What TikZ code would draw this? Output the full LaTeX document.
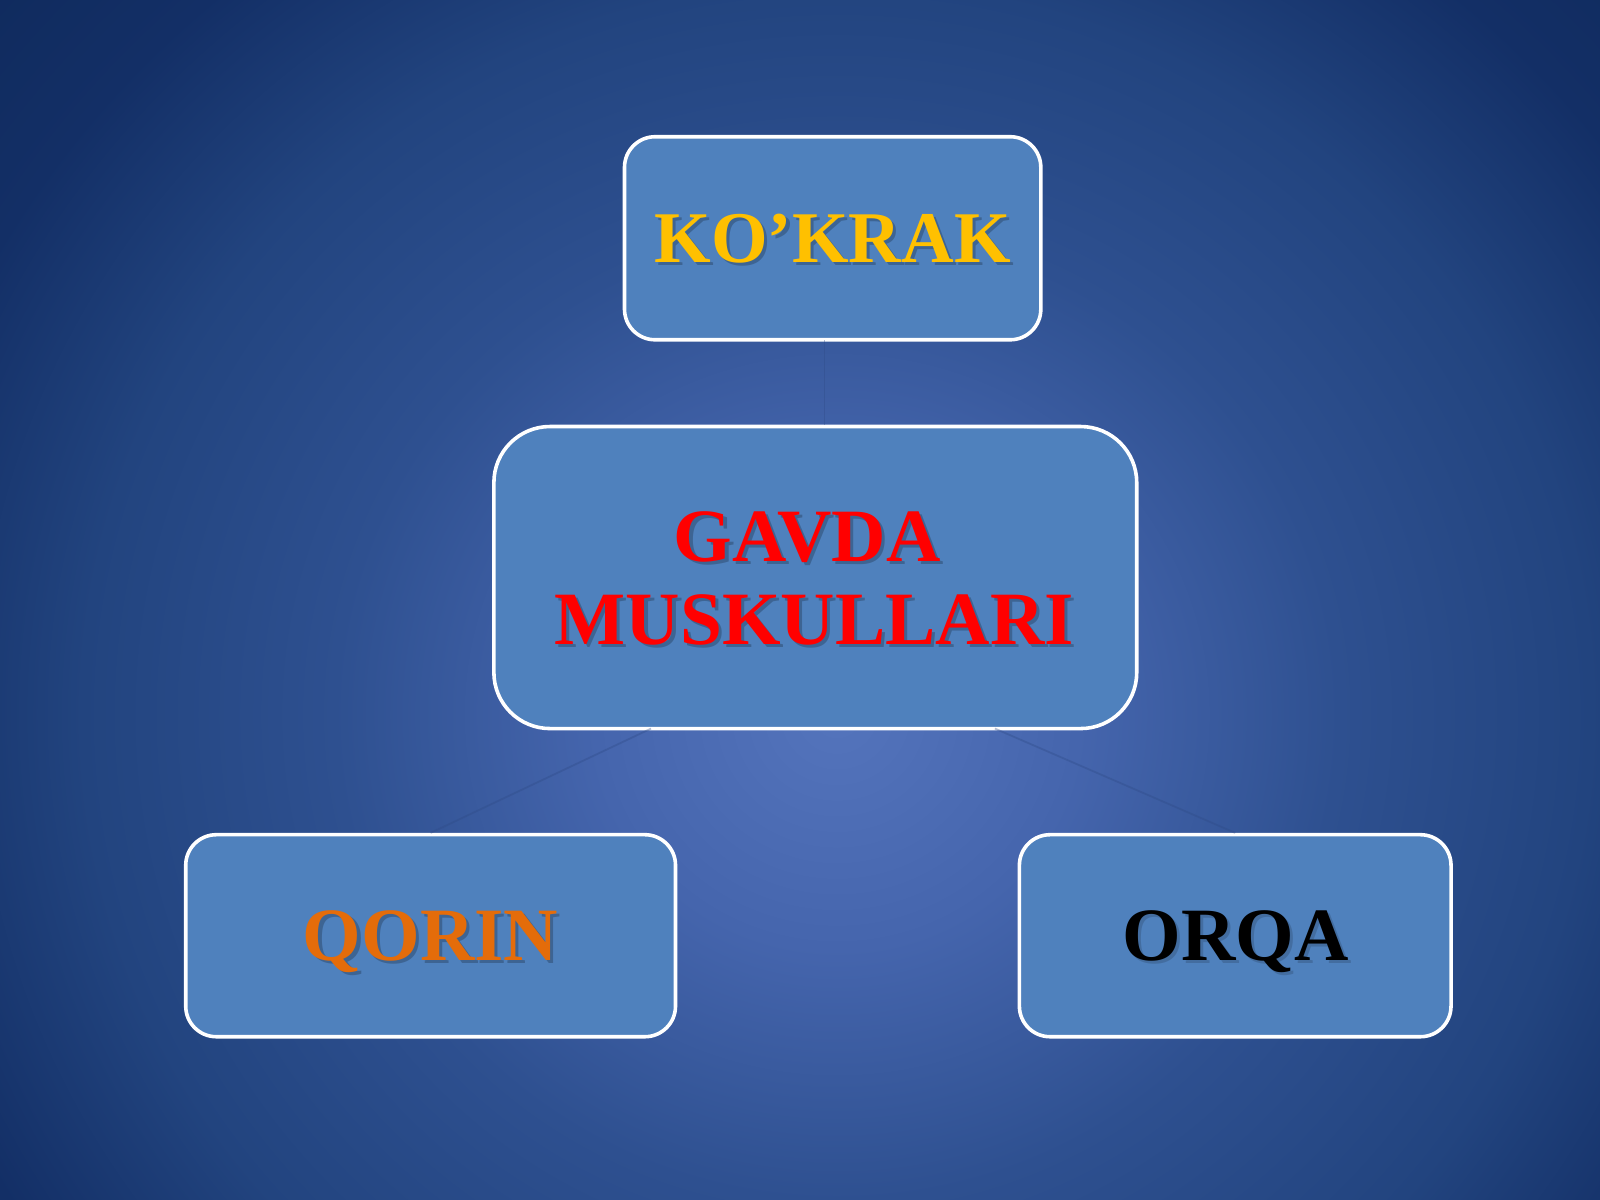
\documentclass[tikz,border=0pt]{standalone}
\usepackage{fontspec}
\setmainfont{Liberation Serif}
\definecolor{bgA}{HTML}{5474BC}
\definecolor{bgB}{HTML}{4565AD}
\definecolor{bgC}{HTML}{2E5090}
\definecolor{bgD}{HTML}{22447F}
\definecolor{bgE}{HTML}{132F66}
\definecolor{bgF}{HTML}{0F2A5C}
\definecolor{boxfill}{HTML}{4F81BD}
\definecolor{gold}{HTML}{FFC000}
\definecolor{orng}{HTML}{E46C0A}
\definecolor{conn}{HTML}{2E4A86}
\pgfdeclareradialshading{bgshade}{\pgfpoint{0bp}{0bp}}{color(0bp)=(bgA); color(5.2bp)=(bgB); color(10.8bp)=(bgC); color(16.2bp)=(bgD); color(20.8bp)=(bgE); color(25bp)=(bgF); color(50bp)=(bgF)}
\begin{document}
\begin{tikzpicture}[
  box/.style={draw=white, line width=1pt, fill=boxfill, rectangle, inner sep=0pt},
  lbl/.style={font=\bfseries\fontsize{21pt}{23.3pt}\selectfont, anchor=base, inner sep=0pt, align=center},
  shadowtxt/.style={lbl, text=black, opacity=0.22},
  connector/.style={draw=conn, line width=0.5pt, opacity=0.35}
]
\useasboundingbox (0,0) rectangle (15.68,-11.76);
\begin{scope}
\clip (0,0) rectangle (15.68,-11.76);
\fill[bgF] (0,0) rectangle (15.68,-11.76);
\shade[shading=bgshade] (8.2,-7.0) ellipse (11.4 and 11.04);
\end{scope}
% boxes
\node[box, rounded corners=0.3cm, minimum width=4.08cm, minimum height=1.99cm] (kok) at (8.16,-2.335) {};
\node[box, rounded corners=0.55cm, minimum width=6.30cm, minimum height=2.96cm] (gv) at (7.99,-5.66) {};
\node[box, rounded corners=0.3cm, minimum width=4.80cm, minimum height=1.98cm] (qor) at (4.22,-9.17) {};
\node[box, rounded corners=0.3cm, minimum width=4.23cm, minimum height=1.98cm] (orq) at (12.105,-9.17) {};
% connectors
\coordinate (c1) at (8.08,-3.335);
\draw[connector] (c1) -- (c1 |- gv.north);
\coordinate (c2) at (6.38,-7.14);
\coordinate (c3) at (9.75,-7.14);
\draw[connector] (c2) -- (qor.north);
\draw[connector] (c3) -- (orq.north);
% labels
\node[shadowtxt, font=\bfseries\fontsize{20.3pt}{23pt}\selectfont] at (8.19,-2.60) {KO’KRAK};
\node[lbl, text=gold, font=\bfseries\fontsize{20.3pt}{23pt}\selectfont] (tk) at (8.16,-2.57) {KO’KRAK};
\node[shadowtxt] at (7.94,-5.53) {GAVDA};
\node[lbl, text=red] (tg) at (7.91,-5.50) {GAVDA};
\node[shadowtxt] at (8.01,-6.35) {MUSKULLARI};
\node[lbl, text=red] (tm) at (7.98,-6.32) {MUSKULLARI};
\node[shadowtxt] at (4.25,-9.44) {QORIN};
\node[lbl, text=orng] (tq) at (4.22,-9.41) {QORIN};
\node[shadowtxt, opacity=0.15] at (12.14,-9.44) {ORQA};
\node[lbl, text=black] (to) at (12.11,-9.41) {ORQA};
\end{tikzpicture}
\end{document}
